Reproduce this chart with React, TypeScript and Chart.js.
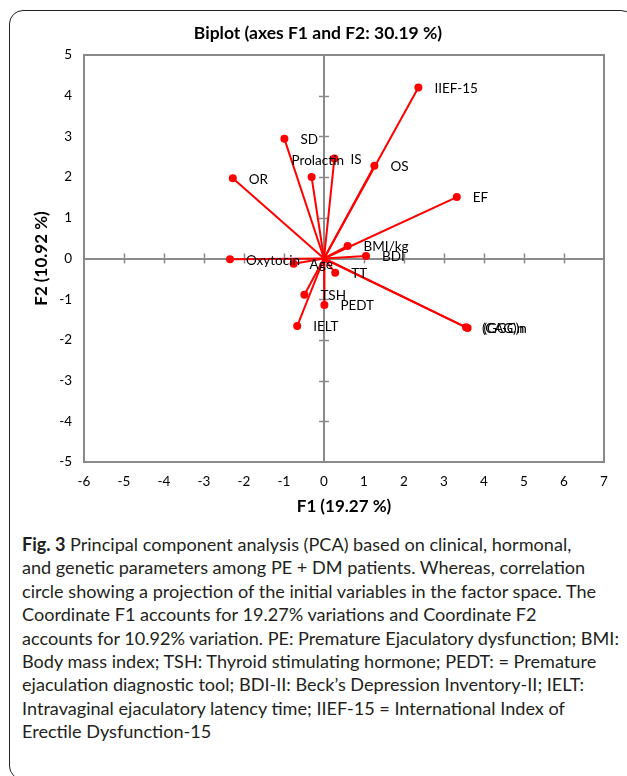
import React, { useEffect, useRef } from "react";
import { Chart, registerables } from "chart.js";

Chart.register(...registerables);

// ---- Data ----
const variables = [
  "IIEF-15", "OS", "IS", "EF", "BMI/kg", "BDI", "SD", "Prolactin", "OR",
  "Oxytocin", "Age", "TT", "TSH", "PEDT", "IELT", "(CAG)n", "(GGC)n",
];
const f1Values = [2.36, 1.26, 0.26, 3.32, 0.59, 1.05, -0.99, -0.31, -2.28, -2.35, -0.76, 0.28, -0.49, 0.01, -0.67, 3.55, 3.59];
const f2Values = [4.2, 2.28, 2.46, 1.51, 0.31, 0.06, 2.94, 2.0, 1.97, -0.02, -0.13, -0.35, -0.89, -1.14, -1.66, -1.69, -1.71];
const xRange = [-6, 7];
const yRange = [-5, 5];

const chartTitle = "Biplot (axes F1 and F2: 30.19 %)";
const xTitle = "F1 (19.27 %)";
const yTitle = "F2 (10.92 %)";

const captionLines = [
  "Principal component analysis (PCA) based on clinical, hormonal,",
  "and genetic parameters among PE + DM patients. Whereas, correlation",
  "circle showing a projection of the initial variables in the factor space. The",
  "Coordinate F1 accounts for 19.27% variations and Coordinate F2",
  "accounts for 10.92% variation. PE: Premature Ejaculatory dysfunction; BMI:",
  "Body mass index; TSH: Thyroid stimulating hormone; PEDT: = Premature",
  "ejaculation diagnostic tool; BDI-II: Beck\u2019s Depression Inventory-II; IELT:",
  "Intravaginal ejaculatory latency time; IIEF-15 = International Index of",
  "Erectile Dysfunction-15",
];

const GRAY = "#8a8a8a";
const RED = "#ff0000";
const FONT = "Lato, 'Open Sans', sans-serif";

const biplotPlugin = {
  id: "biplotDecor",
  beforeDatasetsDraw(chart: any) {
    const { ctx, scales } = chart;
    const xs = scales.x;
    const ys = scales.y;
    const x0 = xs.getPixelForValue(0);
    const y0 = ys.getPixelForValue(0);
    ctx.save();
    ctx.strokeStyle = GRAY;
    ctx.lineWidth = 1.5;
    xs.ticks.forEach((t: any) => {
      if (t.value === xRange[0] || t.value === xRange[1] || t.value === 0) return;
      const px = Math.round(xs.getPixelForValue(t.value)) + 0.5;
      ctx.beginPath();
      ctx.moveTo(px, y0 - 5);
      ctx.lineTo(px, y0 + 5);
      ctx.stroke();
    });
    ys.ticks.forEach((t: any) => {
      if (t.value === yRange[0] || t.value === yRange[1] || t.value === 0) return;
      const py = Math.round(ys.getPixelForValue(t.value)) + 0.5;
      ctx.beginPath();
      ctx.moveTo(x0 - 5, py);
      ctx.lineTo(x0 + 5, py);
      ctx.stroke();
    });
    ctx.restore();
  },
  afterDatasetsDraw(chart: any) {
    const { ctx } = chart;
    ctx.save();
    ctx.font = `13.5px ${FONT}`;
    ctx.fillStyle = "#000";
    ctx.textAlign = "left";
    ctx.textBaseline = "middle";
    chart.data.datasets.forEach((ds: any, i: number) => {
      const pt = chart.getDatasetMeta(i).data[1];
      if (!pt) return;
      let dx = 16;
      let dy = 1;
      if (ds.label === "Prolactin") {
        dx = -20;
        dy = -16;
      }
      ctx.fillText(ds.label, pt.x + dx, pt.y + dy);
    });
    ctx.restore();
  },
  afterDraw(chart: any) {
    const { ctx, chartArea } = chart;
    ctx.save();
    ctx.fillStyle = "#000";
    ctx.textAlign = "center";
    ctx.textBaseline = "middle";
    ctx.font = `bold 17.5px ${FONT}`;
    ctx.fillText(chartTitle, 318, 33);
    ctx.font = `bold 17px ${FONT}`;
    ctx.fillText(xTitle, (chartArea.left + chartArea.right) / 2, 507);
    ctx.translate(42, (chartArea.top + chartArea.bottom) / 2);
    ctx.rotate(-Math.PI / 2);
    ctx.fillText(yTitle, 0, 0);
    ctx.restore();
  },
};

function BiplotChart() {
  const ref = useRef<HTMLCanvasElement | null>(null);
  useEffect(() => {
    if (!ref.current) return;
    const datasets = variables.map((name, i) => ({
      label: name,
      data: [
        { x: 0, y: 0 },
        { x: f1Values[i], y: f2Values[i] },
      ],
      showLine: true,
      borderColor: RED,
      backgroundColor: RED,
      borderWidth: 2,
      pointRadius: [0, 4],
      pointHoverRadius: [0, 4],
      pointBorderWidth: 0,
    }));
    const gridColor = (c: any) => {
      const v = c.tick ? c.tick.value : null;
      return v === 0 ? GRAY : "rgba(0,0,0,0)";
    };
    const chart = new Chart(ref.current, {
      type: "scatter",
      data: { datasets },
      options: {
        responsive: false,
        animation: false,
        events: [],
        layout: { padding: { top: 55, right: 23, left: 0, bottom: 0 } },
        plugins: {
          legend: { display: false },
          title: { display: false },
          tooltip: { enabled: false },
        },
        scales: {
          x: {
            type: "linear",
            min: xRange[0],
            max: xRange[1],
            ticks: { stepSize: 1, padding: 12, color: "#000", font: { family: FONT, size: 13.5 }, maxRotation: 0 },
            grid: { color: gridColor, lineWidth: 2, drawTicks: false },
            border: { display: false },
            afterFit: (s: any) => {
              s.height = 63;
            },
          },
          y: {
            type: "linear",
            min: yRange[0],
            max: yRange[1],
            ticks: { stepSize: 1, padding: 12, color: "#000", font: { family: FONT, size: 13.5 } },
            grid: { color: gridColor, lineWidth: 2, drawTicks: false },
            border: { display: false },
            afterFit: (s: any) => {
              s.width = 84;
            },
          },
        },
      },
      plugins: [
        {
          id: "plotFrame",
          beforeDatasetsDraw(chart: any) {
            const { ctx, chartArea } = chart;
            ctx.save();
            ctx.strokeStyle = GRAY;
            ctx.lineWidth = 2;
            ctx.strokeRect(chartArea.left, chartArea.top, chartArea.right - chartArea.left, chartArea.bottom - chartArea.top);
            ctx.restore();
          },
        },
        biplotPlugin,
      ],
    } as any);
    return () => chart.destroy();
  }, []);
  return <canvas ref={ref} width={627} height={525} style={{ position: "absolute", left: 0, top: 0, width: 627, height: 525 }} />;
}

export default function App() {
  return (
    <div style={{ position: "fixed", left: 0, top: 0, width: 627, height: 776, overflow: "hidden", background: "#fff" }}>
      <div
        style={{
          position: "absolute",
          left: 9,
          top: 10,
          width: 626,
          height: 770,
          border: "1.5px solid #222",
          borderRadius: 14,
          boxSizing: "border-box",
        }}
      />
      <BiplotChart />
      <div
        style={{
          position: "absolute",
          left: 22,
          top: 533,
          fontFamily: FONT,
          fontSize: 18.1,
          lineHeight: "23.4px",
          color: "#231f20",
          whiteSpace: "pre",
        }}
      >
        {captionLines.map((line, i) => (
          <div key={i}>
            {i === 0 ? <b>Fig. 3 </b> : null}
            {line}
          </div>
        ))}
      </div>
    </div>
  );
}
